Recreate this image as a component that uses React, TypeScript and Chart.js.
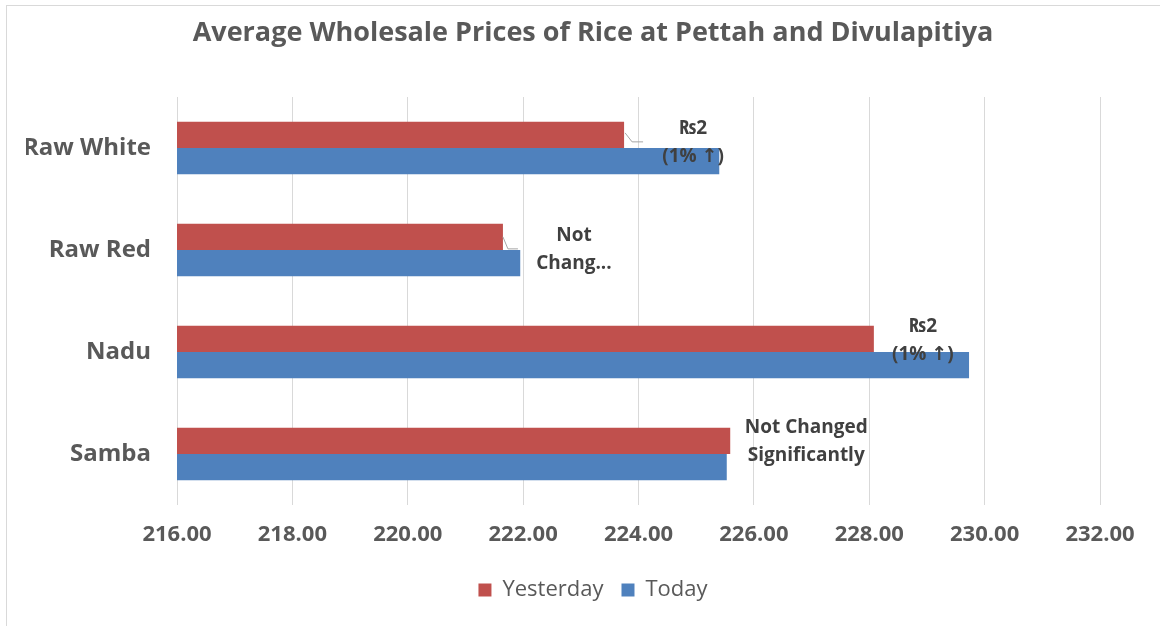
import { useEffect, useRef } from "react";
import { Chart, registerables } from "chart.js";

Chart.register(...registerables);

const categories = ["Raw White", "Raw Red", "Nadu", "Samba"];
const yesterdayValues = [223.75, 221.65, 228.08, 225.59];
const todayValues = [225.4, 221.95, 229.73, 225.53];
const changeLabels = [
  ["₨2", "(1% ↑)"],
  ["Not", "Chang..."],
  ["₨2", "(1% ↑)"],
  ["Not Changed", "Significantly"],
];
const axisMin = 216;
const axisMax = 232;
const axisStep = 2;

// label placement relative to the Yesterday bar end (styling only)
const labelOffsets = [
  { dx: 69, dy: 8 },
  { dx: 71, dy: 13 },
  { dx: 49, dy: 2 },
  { dx: 76, dy: 1 },
];
const leaderOffsets: (number[][] | null)[] = [
  [[1, -2], [8, 7], [19, 7]],
  [[0, 0], [5, 12], [15, 12]],
  null,
  null,
];

const FONT = "'Open Sans', 'Noto Sans', sans-serif";
const ARROW_FONT = "'DejaVu Sans', sans-serif";

function drawRich(ctx: CanvasRenderingContext2D, text: string, cx: number, cy: number) {
  const parts = text.split(/(↑)/).filter((p) => p.length > 0);
  const fonts = parts.map((p) => (p === "↑" ? `bold 19px ${ARROW_FONT}` : `bold 19px ${FONT}`));
  const widths = parts.map((p, k) => {
    ctx.font = fonts[k];
    return ctx.measureText(p).width;
  });
  const total = widths.reduce((a, b) => a + b, 0);
  let x = cx - total / 2;
  ctx.textAlign = "left";
  ctx.textBaseline = "middle";
  parts.forEach((p, k) => {
    ctx.font = fonts[k];
    ctx.fillText(p, x, cy);
    x += widths[k];
  });
}

const labelPlugin = {
  id: "changeLabels",
  afterDatasetsDraw(chart: any) {
    const ctx = chart.ctx as CanvasRenderingContext2D;
    const meta = chart.getDatasetMeta(0);
    ctx.save();
    meta.data.forEach((bar: any, i: number) => {
      const lead = leaderOffsets[i];
      if (lead) {
        ctx.beginPath();
        ctx.strokeStyle = "#a6a6a6";
        ctx.lineWidth = 1;
        lead.forEach((p, k) => {
          const px = bar.x + p[0];
          const py = bar.y + p[1];
          if (k === 0) ctx.moveTo(px, py);
          else ctx.lineTo(px, py);
        });
        ctx.stroke();
      }
      const off = labelOffsets[i];
      const cx = bar.x + off.dx;
      const cy = bar.y + off.dy;
      const lines = changeLabels[i];
      ctx.fillStyle = "#404040";
      const lh = 28;
      lines.forEach((t, k) => {
        drawRich(ctx, t, cx, cy + (k - (lines.length - 1) / 2) * lh);
      });
    });
    ctx.restore();
  },
};

export default function App() {
  const ref = useRef<HTMLCanvasElement>(null);
  useEffect(() => {
    document.body.style.margin = "0";
    const chart = new Chart(ref.current!, {
      type: "bar",
      data: {
        labels: categories,
        datasets: [
          {
            label: "Yesterday",
            data: yesterdayValues,
            backgroundColor: "#C0504D",
            categoryPercentage: 0.515,
            barPercentage: 1,
          },
          {
            label: "Today",
            data: todayValues,
            backgroundColor: "#4F81BD",
            categoryPercentage: 0.515,
            barPercentage: 1,
          },
        ],
      },
      options: {
        indexAxis: "y",
        responsive: false,
        animation: false,
        devicePixelRatio: 1,
        layout: { padding: { left: 26, right: 0, top: 0, bottom: 15 } },
        scales: {
          x: {
            min: axisMin,
            max: axisMax,
            ticks: {
              stepSize: axisStep,
              callback: (v: any) => Number(v).toFixed(2),
              color: "#595959",
              font: { family: FONT, size: 22, weight: "bold" },
              padding: 17,
            },
            grid: { color: "#d9d9d9", drawTicks: false, lineWidth: 1 },
            border: { display: false },
            afterFit: (s: any) => {
              s.height = 56;
              s.paddingRight = 60;
            },
          },
          y: {
            ticks: {
              color: "#595959",
              font: { family: FONT, size: 24, weight: "bold" },
              padding: 18,
            },
            grid: { display: false },
            border: { display: false },
            afterFit: (s: any) => {
              s.width = 151;
            },
          },
        },
        plugins: {
          title: {
            display: true,
            text: "Average Wholesale Prices of Rice at Pettah and Divulapitiya",
            color: "#595959",
            font: { family: FONT, size: 27, weight: "bold" },
            padding: { top: 17, bottom: 47.6 },
          },
          legend: {
            position: "bottom",
            labels: {
              boxWidth: 13,
              boxHeight: 13,
              color: "#595959",
              font: { family: FONT, size: 22 },
              padding: 18,
            },
          },
          tooltip: { enabled: false },
        },
      },
      plugins: [labelPlugin],
    } as any);
    return () => chart.destroy();
  }, []);
  return (
    <div style={{ position: "relative", width: 1160, height: 626, overflow: "hidden", background: "#fff" }}>
      <div
        style={{
          position: "absolute",
          left: 6,
          top: 5,
          width: 1300,
          height: 800,
          border: "1px solid #d9d9d9",
        }}
      />
      <canvas ref={ref} width={1160} height={626} style={{ position: "absolute", left: 0, top: 0 }} />
    </div>
  );
}
